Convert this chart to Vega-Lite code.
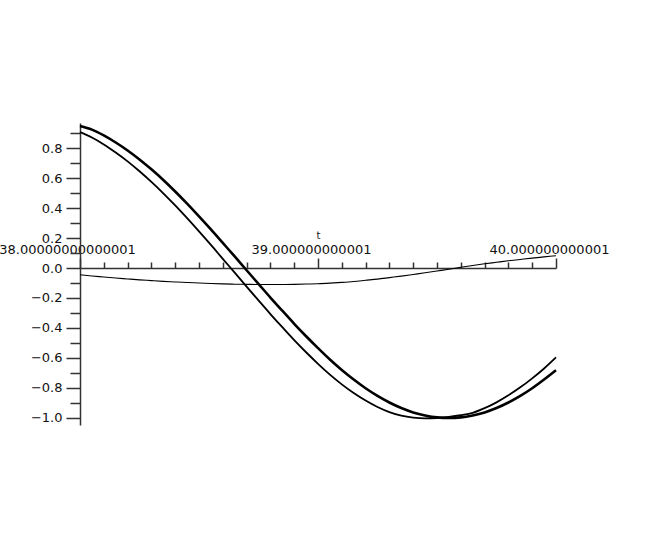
{
  "$schema": "https://vega.github.io/schema/vega-lite/v6.json",
  "width": 476,
  "height": 302,
  "autosize": "none",
  "padding": {"left": 80, "top": 123, "right": 98, "bottom": 120},
  "background": "white",
  "config": {"view": {"stroke": null}},
  "data": {"values": [
    {"t":38.00,"v":0.947,"s":"A"},{"t":38.05,"v":0.923,"s":"A"},{"t":38.10,"v":0.884,"s":"A"},{"t":38.15,"v":0.837,"s":"A"},{"t":38.20,"v":0.784,"s":"A"},{"t":38.25,"v":0.724,"s":"A"},{"t":38.30,"v":0.658,"s":"A"},{"t":38.35,"v":0.587,"s":"A"},{"t":38.40,"v":0.510,"s":"A"},{"t":38.45,"v":0.429,"s":"A"},{"t":38.50,"v":0.344,"s":"A"},{"t":38.55,"v":0.257,"s":"A"},{"t":38.60,"v":0.167,"s":"A"},{"t":38.65,"v":0.077,"s":"A"},{"t":38.70,"v":-0.015,"s":"A"},{"t":38.75,"v":-0.106,"s":"A"},{"t":38.80,"v":-0.197,"s":"A"},{"t":38.85,"v":-0.285,"s":"A"},{"t":38.90,"v":-0.372,"s":"A"},{"t":38.95,"v":-0.455,"s":"A"},{"t":39.00,"v":-0.534,"s":"A"},{"t":39.05,"v":-0.610,"s":"A"},{"t":39.10,"v":-0.680,"s":"A"},{"t":39.15,"v":-0.744,"s":"A"},{"t":39.20,"v":-0.802,"s":"A"},{"t":39.25,"v":-0.853,"s":"A"},{"t":39.30,"v":-0.897,"s":"A"},{"t":39.35,"v":-0.934,"s":"A"},{"t":39.40,"v":-0.963,"s":"A"},{"t":39.45,"v":-0.983,"s":"A"},{"t":39.50,"v":-0.996,"s":"A"},{"t":39.55,"v":-1.000,"s":"A"},{"t":39.60,"v":-0.996,"s":"A"},{"t":39.65,"v":-0.983,"s":"A"},{"t":39.70,"v":-0.963,"s":"A"},{"t":39.75,"v":-0.934,"s":"A"},{"t":39.80,"v":-0.897,"s":"A"},{"t":39.85,"v":-0.853,"s":"A"},{"t":39.90,"v":-0.802,"s":"A"},{"t":39.95,"v":-0.744,"s":"A"},{"t":40.00,"v":-0.682,"s":"A"},
    {"t":38.00,"v":0.906,"s":"B"},{"t":38.05,"v":0.870,"s":"B"},{"t":38.10,"v":0.824,"s":"B"},{"t":38.15,"v":0.770,"s":"B"},{"t":38.20,"v":0.711,"s":"B"},{"t":38.25,"v":0.645,"s":"B"},{"t":38.30,"v":0.574,"s":"B"},{"t":38.35,"v":0.498,"s":"B"},{"t":38.40,"v":0.417,"s":"B"},{"t":38.45,"v":0.332,"s":"B"},{"t":38.50,"v":0.244,"s":"B"},{"t":38.55,"v":0.154,"s":"B"},{"t":38.60,"v":0.061,"s":"B"},{"t":38.65,"v":-0.031,"s":"B"},{"t":38.70,"v":-0.124,"s":"B"},{"t":38.75,"v":-0.216,"s":"B"},{"t":38.80,"v":-0.307,"s":"B"},{"t":38.85,"v":-0.395,"s":"B"},{"t":38.90,"v":-0.481,"s":"B"},{"t":38.95,"v":-0.562,"s":"B"},{"t":39.00,"v":-0.639,"s":"B"},{"t":39.05,"v":-0.711,"s":"B"},{"t":39.10,"v":-0.776,"s":"B"},{"t":39.15,"v":-0.834,"s":"B"},{"t":39.20,"v":-0.884,"s":"B"},{"t":39.25,"v":-0.927,"s":"B"},{"t":39.30,"v":-0.961,"s":"B"},{"t":39.35,"v":-0.985,"s":"B"},{"t":39.40,"v":-0.998,"s":"B"},{"t":39.45,"v":-1.003,"s":"B"},{"t":39.50,"v":-1.000,"s":"B"},{"t":39.55,"v":-0.993,"s":"B"},{"t":39.60,"v":-0.982,"s":"B"},{"t":39.65,"v":-0.966,"s":"B"},{"t":39.70,"v":-0.935,"s":"B"},{"t":39.75,"v":-0.896,"s":"B"},{"t":39.80,"v":-0.849,"s":"B"},{"t":39.85,"v":-0.796,"s":"B"},{"t":39.90,"v":-0.736,"s":"B"},{"t":39.95,"v":-0.670,"s":"B"},{"t":40.00,"v":-0.596,"s":"B"},
    {"t":38.00,"v":-0.045,"s":"C"},{"t":38.05,"v":-0.053,"s":"C"},{"t":38.10,"v":-0.060,"s":"C"},{"t":38.15,"v":-0.067,"s":"C"},{"t":38.20,"v":-0.073,"s":"C"},{"t":38.25,"v":-0.079,"s":"C"},{"t":38.30,"v":-0.084,"s":"C"},{"t":38.35,"v":-0.089,"s":"C"},{"t":38.40,"v":-0.093,"s":"C"},{"t":38.45,"v":-0.097,"s":"C"},{"t":38.50,"v":-0.100,"s":"C"},{"t":38.55,"v":-0.103,"s":"C"},{"t":38.60,"v":-0.106,"s":"C"},{"t":38.65,"v":-0.108,"s":"C"},{"t":38.70,"v":-0.109,"s":"C"},{"t":38.75,"v":-0.110,"s":"C"},{"t":38.80,"v":-0.110,"s":"C"},{"t":38.85,"v":-0.110,"s":"C"},{"t":38.90,"v":-0.109,"s":"C"},{"t":38.95,"v":-0.107,"s":"C"},{"t":39.00,"v":-0.105,"s":"C"},{"t":39.05,"v":-0.101,"s":"C"},{"t":39.10,"v":-0.096,"s":"C"},{"t":39.15,"v":-0.090,"s":"C"},{"t":39.20,"v":-0.082,"s":"C"},{"t":39.25,"v":-0.074,"s":"C"},{"t":39.30,"v":-0.064,"s":"C"},{"t":39.35,"v":-0.054,"s":"C"},{"t":39.40,"v":-0.043,"s":"C"},{"t":39.45,"v":-0.032,"s":"C"},{"t":39.50,"v":-0.020,"s":"C"},{"t":39.55,"v":-0.008,"s":"C"},{"t":39.60,"v":0.005,"s":"C"},{"t":39.65,"v":0.017,"s":"C"},{"t":39.70,"v":0.028,"s":"C"},{"t":39.75,"v":0.038,"s":"C"},{"t":39.80,"v":0.048,"s":"C"},{"t":39.85,"v":0.057,"s":"C"},{"t":39.90,"v":0.066,"s":"C"},{"t":39.95,"v":0.074,"s":"C"},{"t":40.00,"v":0.082,"s":"C"}
  ]},
  "mark": {"type": "line", "color": "black", "interpolate": "monotone"},
  "encoding": {
    "x": {
      "field": "t", "type": "quantitative",
      "scale": {"domain": [38, 40], "nice": false, "zero": false},
      "axis": {
        "orient": "top", "offset": -145, "title": "t",
        "titleFont": "DejaVu Sans", "titleFontSize": 10, "titleFontWeight": "normal", "titlePadding": 3, "titleColor": "#111",
        "tickCount": 100,
        "values": [38, 38.1, 38.2, 38.3, 38.4, 38.5, 38.6, 38.7, 38.8, 38.9, 39, 39.1, 39.2, 39.3, 39.4, 39.5, 39.6, 39.7, 39.8, 39.9, 40],
        "labelExpr": "datum.value < 38.05 ? '38.00000000000001' : (abs(datum.value - round(datum.value)) < 0.01 ? format(datum.value, '.0f') + '.000000000001' : '')",
        "tickSize": {"condition": {"test": "abs(datum.value - round(datum.value)) < 0.01", "value": 10}, "value": 6},
        "labelFont": "DejaVu Sans", "labelFontSize": 13, "labelColor": "#111", "labelPadding": 2,
        "labelOffset": {"condition": {"test": "datum.value < 38.5", "value": -13}, "value": -7},
        "labelOverlap": false, "labelFlush": false, "labelBound": false,
        "domainColor": "#333", "domainWidth": 1.5, "tickColor": "#333", "tickWidth": 1.5, "grid": false
      }
    },
    "y": {
      "field": "v", "type": "quantitative",
      "scale": {"domain": [-1.047, 0.967], "nice": false, "zero": false},
      "axis": {
        "orient": "left", "title": null,
        "tickCount": 100,
        "values": [-1, -0.9, -0.8, -0.7, -0.6, -0.5, -0.4, -0.3, -0.2, -0.1, 0, 0.1, 0.2, 0.3, 0.4, 0.5, 0.6, 0.7, 0.8, 0.9],
        "labelExpr": "abs(datum.value*5 - round(datum.value*5)) < 0.01 ? format(datum.value, '.1f') : ''",
        "tickSize": {"condition": {"test": "abs(datum.value*5 - round(datum.value*5)) < 0.01", "value": 14}, "value": 10},
        "labelFont": "DejaVu Sans", "labelFontSize": 13, "labelColor": "#111", "labelPadding": 4,
        "labelOverlap": false, "labelFlush": false, "labelBound": false,
        "domainColor": "#333", "domainWidth": 1.5, "tickColor": "#333", "tickWidth": 1.5, "grid": false
      }
    },
    "strokeWidth": {"field": "s", "type": "nominal", "scale": {"domain": ["A", "B", "C"], "range": [2.6, 1.1, 1.1]}, "legend": null}
  }
}
